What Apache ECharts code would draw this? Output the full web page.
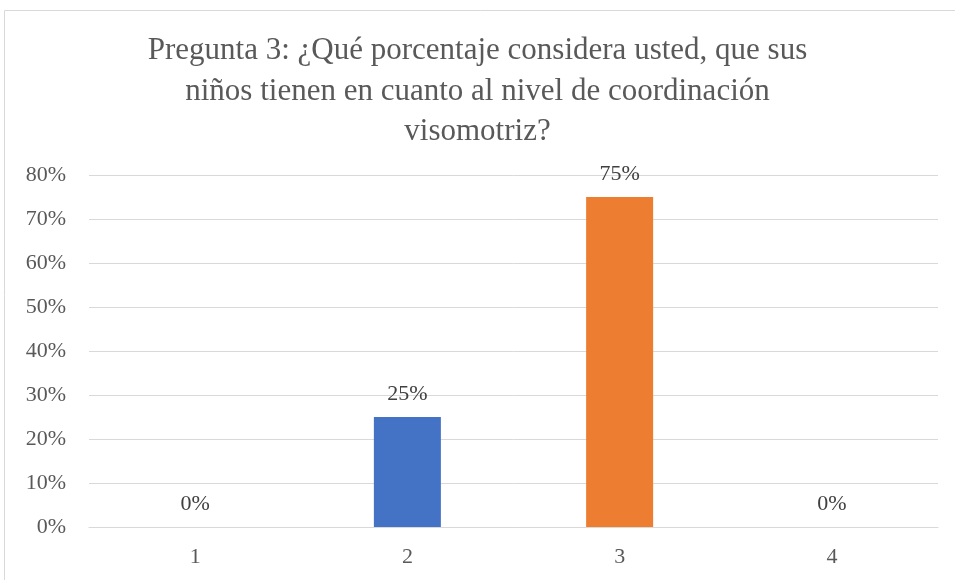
<!DOCTYPE html>
<html>
<head>
<meta charset="utf-8">
<script src="https://cdn.jsdelivr.net/npm/echarts@6/dist/echarts.min.js"></script>
<style>
  html, body { margin: 0; padding: 0; background: #fff; }
  #chart { width: 955px; height: 580px; }
</style>
</head>
<body>
<div id="chart"></div>
<script>
const categories = ['1', '2', '3', '4']
const values = [0, 25, 75, 0]
const barColors = ['#4472C4', '#4472C4', '#ED7D31', '#4472C4']
const yTicks = [0, 10, 20, 30, 40, 50, 60, 70, 80]

const titleText = 'Pregunta 3: ¿Qué porcentaje considera usted, que sus\nniños tienen en cuanto al nivel de coordinación\nvisomotriz?'
const font = '"Liberation Serif", "Times New Roman", serif'

const chart = echarts.init(document.getElementById('chart'))

const option = {
  backgroundColor: '#fff',
  animation: false,
  graphic: [{
    type: 'rect',
    shape: { x: 4.5, y: 10.5, width: 960, height: 600 },
    style: { fill: 'none', stroke: '#d9d9d9', lineWidth: 1 },
    silent: true
  }],
  title: {
    text: titleText,
    left: 'center',
    top: 26,
    textStyle: {
      fontFamily: font,
      fontSize: 31,
      fontWeight: 'normal',
      color: '#595959',
      lineHeight: 40.5
    }
  },
  grid: {
    left: 89,
    right: 17,
    top: 175,
    bottom: 53,
    containLabel: false
  },
  xAxis: {
    type: 'category',
    data: categories,
    axisLine: { show: true, lineStyle: { color: '#d9d9d9', width: 1 } },
    axisTick: { show: false },
    axisLabel: {
      fontFamily: font,
      fontSize: 22,
      color: '#595959',
      margin: 19
    }
  },
  yAxis: {
    type: 'value',
    min: yTicks[0],
    max: yTicks[yTicks.length - 1],
    interval: 10,
    axisLine: { show: false },
    axisTick: { show: false },
    splitLine: { lineStyle: { color: '#d9d9d9', width: 1 } },
    axisLabel: {
      fontFamily: font,
      fontSize: 22,
      color: '#595959',
      margin: 23,
      formatter: v => v + '%'
    }
  },
  series: [{
    type: 'bar',
    barWidth: 67,
    data: values.map((v, i) => ({ value: v, itemStyle: { color: barColors[i] } })),
    label: {
      show: true,
      position: 'top',
      distance: 12,
      fontFamily: font,
      fontSize: 22,
      color: '#404040',
      formatter: p => p.value + '%'
    }
  }]
}

chart.setOption(option)
</script>
</body>
</html>
